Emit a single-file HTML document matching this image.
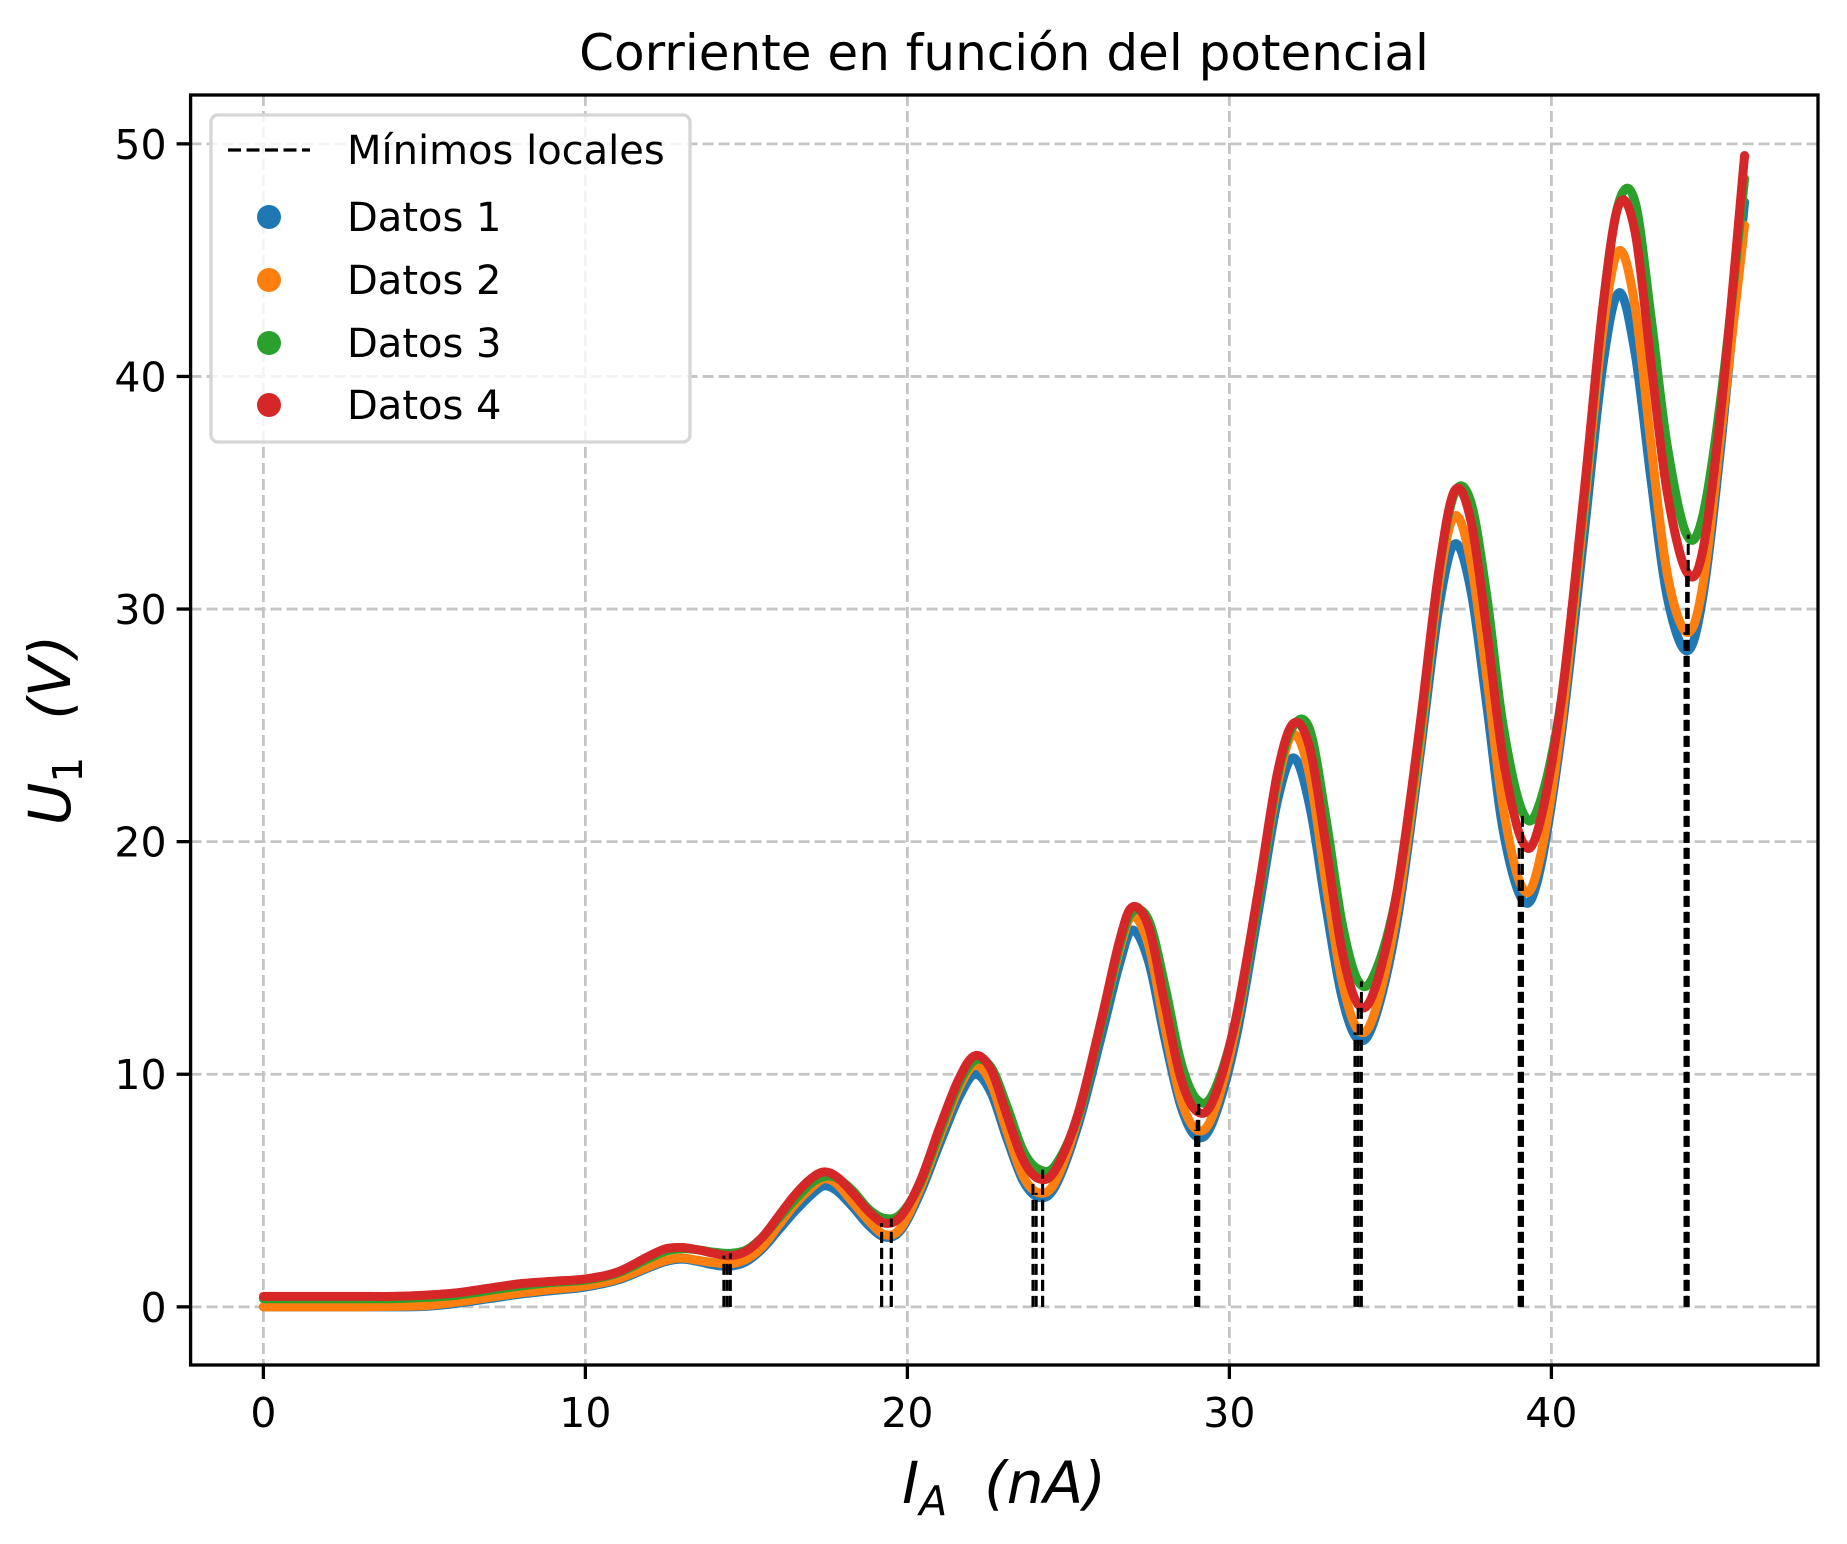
<!DOCTYPE html>
<html><head><meta charset="utf-8"><style>
html,body{margin:0;padding:0;background:#fff;}
svg{display:block;font-family:"DejaVu Sans","Liberation Sans",sans-serif;}
</style></head><body>
<svg id="chart" width="1847" height="1544" viewBox="0 0 1847 1544" xmlns="http://www.w3.org/2000/svg">
<rect width="1847" height="1544" fill="#fff"/>
<text x="1004" y="70" font-size="50" text-anchor="middle">Corriente en función del potencial</text>
<g id="grid"></g>
<g id="series"></g>
<g id="minlines"></g>
<rect x="190.6" y="95" width="1627.4" height="270" fill="none" stroke="none"/>
<g id="axes"></g>
<text x="1004" y="1503" font-size="58" text-anchor="middle" font-style="italic">I<tspan font-size="41" dy="12">A</tspan><tspan dy="-12" xml:space="preserve">  (nA)</tspan></text>
<text transform="translate(70,730) rotate(-90)" font-size="58" text-anchor="middle" font-style="italic">U<tspan font-size="41" dy="12" font-style="normal">1</tspan><tspan dy="-12" xml:space="preserve">  (V)</tspan></text>
<g id="legend">
<rect x="211" y="115" width="479" height="327" rx="7" fill="#fff" fill-opacity="0.8" stroke="#d6d6d6" stroke-width="3.3"/>
<line x1="228" y1="150" x2="310" y2="150" stroke="#000" stroke-width="3.3" stroke-dasharray="13 5.5"/>
<text x="347" y="164" font-size="40">Mínimos locales</text>
<circle cx="269" cy="217" r="12" fill="#1f77b4"/>
<text x="347" y="231" font-size="40">Datos 1</text>
<circle cx="269" cy="280" r="12" fill="#ff7f0e"/>
<text x="347" y="294" font-size="40">Datos 2</text>
<circle cx="269" cy="343" r="12" fill="#2ca02c"/>
<text x="347" y="357" font-size="40">Datos 3</text>
<circle cx="269" cy="405" r="12" fill="#d62728"/>
<text x="347" y="419" font-size="40">Datos 4</text>
</g>
</svg>
<script>
const xGrid = [0,1,2,3,4,5,6,7,8,9,10,11,12,12.5,13,13.5,14,14.5,15,15.5,16,16.5,17,17.4,17.8,18.3,18.8,19.3,19.8,20.4,21.0,21.6,22.1,22.6,23.1,23.6,24.1,24.6,25.3,26.0,26.6,27.0,27.5,28.0,28.5,29.0,29.5,30.2,30.9,31.5,32.0,32.5,33.0,33.5,34.0,34.5,35.2,35.9,36.5,37.0,37.5,38.0,38.5,39.1,39.6,40.3,41.0,41.6,42.1,42.6,43.1,43.6,44.2,44.7,45.3,46.0];
const datos1 = [0,0,0,0,0,0.02,0.15,0.35,0.55,0.7,0.85,1.15,1.7,1.95,2.05,1.95,1.8,1.75,1.95,2.5,3.3,4.1,4.8,5.2,5.0,4.3,3.5,3.0,3.3,4.9,7.0,9.0,10.0,9.2,7.2,5.4,4.7,5.2,7.8,11.5,14.8,16.2,14.8,11.5,8.6,7.3,8.0,11.5,17.0,21.8,23.6,21.5,17.2,13.3,11.5,12.3,16.5,23.5,30.0,32.8,30.8,25.8,20.5,17.5,18.5,24.5,33.0,40.5,43.6,41.0,35.5,30.5,28.2,30.5,37.5,47.5];
const datos2 = [0,0,0,0,0.02,0.05,0.2,0.4,0.6,0.75,0.9,1.2,1.75,2.0,2.1,2.0,1.9,1.85,2.05,2.6,3.5,4.4,5.1,5.5,5.3,4.5,3.7,3.1,3.4,5.1,7.3,9.4,10.4,9.6,7.5,5.6,4.9,5.4,8.1,12.0,15.4,16.8,15.5,12.0,8.9,7.6,8.3,12.0,17.6,22.5,24.6,22.8,18.2,14.0,11.9,12.6,17.0,24.0,31.0,34.0,32.0,27.0,21.5,18.0,19.0,25.0,34.0,42.0,45.4,43.0,37.0,31.5,29.0,31.0,38.0,46.5];
const datos3 = [0.35,0.35,0.35,0.35,0.35,0.4,0.5,0.7,0.9,1.05,1.15,1.45,2.1,2.4,2.5,2.45,2.35,2.3,2.45,3.0,3.8,4.6,5.3,5.6,5.55,5.0,4.2,3.8,4.0,5.3,7.5,9.6,10.6,10.3,8.6,6.7,5.9,6.1,8.2,12.0,15.6,17.0,16.6,13.8,10.5,8.9,9.2,12.3,17.6,22.8,25.0,24.8,21.0,16.5,14.0,14.3,17.8,24.5,31.5,35.0,34.6,30.5,25.0,21.3,21.5,26.0,34.5,43.0,47.5,47.5,42.5,37.0,33.2,34.0,39.5,48.5];
const datos4 = [0.45,0.45,0.45,0.45,0.45,0.5,0.6,0.8,1.0,1.1,1.2,1.5,2.2,2.5,2.55,2.45,2.3,2.2,2.4,3.0,3.9,4.8,5.5,5.8,5.6,4.9,4.1,3.6,3.9,5.4,7.7,9.8,10.8,10.2,8.2,6.3,5.5,5.9,8.3,12.2,15.8,17.2,16.3,13.0,9.8,8.4,8.9,12.4,17.9,23.0,25.1,24.0,19.8,15.3,13.0,13.6,17.8,24.8,31.6,35.1,33.8,29.0,23.6,20.0,20.6,26.0,34.8,43.0,47.4,46.2,40.5,35.0,31.6,32.5,39.0,49.5];
const minX1 = [14.5,19.5,24.2,29.0,34.0,39.1,44.2];
const minY1 = [1.8,3.0,4.7,7.3,11.5,17.5,28.2];
const minX2 = [14.4,19.2,24.0,28.95,33.9,39.05,44.15];
const minY2 = [1.85,3.1,4.9,7.6,11.8,18.0,29.0];
const minX3 = [14.5,19.5,24.2,29.05,34.1,39.1,44.25];
const minY3 = [2.3,3.8,5.9,8.9,14.0,21.2,33.2];
const minX4 = [14.3,19.2,23.9,29.0,34.0,39.0,44.2];
const minY4 = [2.2,3.6,5.5,8.4,13.0,20.0,31.5];
const xTicks = [0,10,20,30,40];
const yTicks = [0,10,20,30,40,50];
const seriesNames = ['datos-1','datos-2','datos-3','datos-4'];
const seriesColors = ['#1f77b4','#ff7f0e','#2ca02c','#d62728'];

const NS='http://www.w3.org/2000/svg';
const L=190.6,R=1818,T=95,B=1365;
const xMin=-2.26,xMax=48.28,yMin=-2.5,yMax=52.1;
function sx(v){return L+(v-xMin)/(xMax-xMin)*(R-L);}
function sy(v){return B-(v-yMin)/(yMax-yMin)*(B-T);}
function mk(tag,attrs,parent){const e=document.createElementNS(NS,tag);for(const k in attrs)e.setAttribute(k,attrs[k]);parent.appendChild(e);return e;}

const grid=document.getElementById('grid');
xTicks.forEach(v=>{
  const l=mk('line',{x1:sx(v),x2:sx(v),y1:T,y2:B,stroke:'#c4c4c4','stroke-width':2.8,'stroke-dasharray':'11 5'},grid);
  
  
});
yTicks.forEach(v=>{
  const l=mk('line',{x1:L,x2:R,y1:sy(v),y2:sy(v),stroke:'#c4c4c4','stroke-width':2.8,'stroke-dasharray':'11 5'},grid);
  
  
});

function smoothPath(xs,ys){
  const p=xs.map((x,i)=>[sx(x),sy(ys[i])]);
  let d='M'+p[0][0]+','+p[0][1];
  for(let i=0;i<p.length-1;i++){
    const p0=p[Math.max(0,i-1)],p1=p[i],p2=p[i+1],p3=p[Math.min(p.length-1,i+2)];
    const c1=[p1[0]+(p2[0]-p0[0])/6,p1[1]+(p2[1]-p0[1])/6];
    const c2=[p2[0]-(p3[0]-p1[0])/6,p2[1]-(p3[1]-p1[1])/6];
    d+=' C'+c1[0]+','+c1[1]+' '+c2[0]+','+c2[1]+' '+p2[0]+','+p2[1];
  }
  return d;
}
const sg=document.getElementById('series');
[datos1,datos2,datos3,datos4].forEach((ys,i)=>{
  const p=mk('path',{d:smoothPath(xGrid,ys),fill:'none',stroke:seriesColors[i],'stroke-width':9,'stroke-linejoin':'round','stroke-linecap':'round'},sg);
  
  
});
const mg=document.getElementById('minlines');
[[minX1,minY1],[minX2,minY2],[minX3,minY3],[minX4,minY4]].forEach((pair,i)=>{
  pair[0].forEach((x,j)=>{
    const l=mk('line',{x1:sx(x),x2:sx(x),y1:sy(0),y2:sy(pair[1][j]),stroke:'#000','stroke-width':3,'stroke-dasharray':'11 5'},mg);
    
    
  });
});
const ax=document.getElementById('axes');
const fr=mk('rect',{x:L,y:T,width:R-L,height:B-T,fill:'none',stroke:'#000','stroke-width':3.3},ax);


xTicks.forEach(v=>{
  const t=mk('line',{x1:sx(v),x2:sx(v),y1:B,y2:B+14,stroke:'#000','stroke-width':3.3},ax);
  
  
  const tx=mk('text',{x:sx(v),y:1427,'font-size':41,'text-anchor':'middle'},ax);
  tx.textContent=v;
  
  
});
yTicks.forEach(v=>{
  const t=mk('line',{x1:L-14,x2:L,y1:sy(v),y2:sy(v),stroke:'#000','stroke-width':3.3},ax);
  
  
  const tx=mk('text',{x:L-24,y:sy(v)+15,'font-size':41,'text-anchor':'end'},ax);
  tx.textContent=v;
  
  
});
</script>
</body></html>
